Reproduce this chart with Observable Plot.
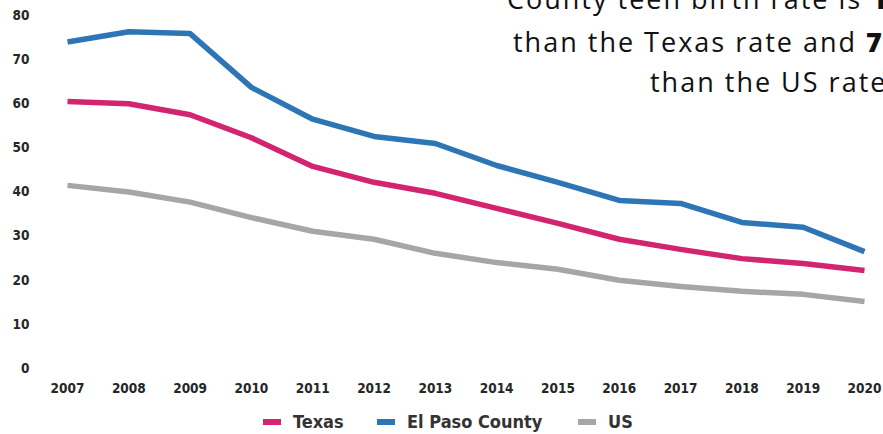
<!DOCTYPE html>
<html>
<head>
<meta charset="utf-8">
<script src="https://cdn.jsdelivr.net/npm/d3@7"></script>
<script src="https://cdn.jsdelivr.net/npm/@observablehq/plot@0.6"></script>
<style>
  html, body { margin: 0; padding: 0; background: #fff; }
  #wrap { position: relative; width: 883px; height: 434px; overflow: hidden; }
  #note { position: absolute; top: 0; left: 0; width: 883px; height: 110px; pointer-events: none;
          font-family: "Open Sans", Lato, sans-serif; font-size: 27px; color: #111; font-weight: 400;
          letter-spacing: 2px; }
  #note div { position: absolute; white-space: nowrap; line-height: 1; }
  #note b { font-weight: 800; }
  #legend { position: absolute; top: 400px; left: 0; width: 883px; height: 34px;
            font-family: "DejaVu Sans Condensed", "DejaVu Sans", sans-serif; font-weight: bold;
            font-size: 18px; color: #333; }
  .item { position: absolute; top: 11px; display: flex; align-items: center; }
  .sw { display: inline-block; width: 18px; height: 6px; margin-right: 12px; }
</style>
</head>
<body>
<div id="wrap">
  <div id="chart"></div>
  <div id="note"></div>
  <div id="legend"></div>
</div>
<script>
const years = [2007, 2008, 2009, 2010, 2011, 2012, 2013, 2014, 2015, 2016, 2017, 2018, 2019, 2020];
const texas = [60.5, 60.0, 57.5, 52.3, 45.8, 42.2, 39.7, 36.3, 32.9, 29.3, 27.0, 24.9, 23.8, 22.2];
const elPaso = [74.0, 76.3, 75.9, 63.7, 56.5, 52.6, 51.0, 46.0, 42.2, 38.1, 37.4, 33.1, 32.0, 26.5];
const us = [41.5, 40.0, 37.7, 34.2, 31.1, 29.3, 26.1, 24.0, 22.5, 20.0, 18.6, 17.5, 16.8, 15.2];
const seriesNames = ["Texas", "El Paso County", "US"];
const seriesColors = ["#d3246f", "#2e75b6", "#a6a6a6"];
const yTicks = [0, 10, 20, 30, 40, 50, 60, 70, 80];
const noteLines = [
  ["County teen birth rate is ", "1"],
  ["than the Texas rate and ", "7"],
  ["than the US rate", ""]
];

const seriesValues = [texas, elPaso, us];
const data = [];
seriesNames.forEach((name, i) => {
  years.forEach((yr, j) => data.push({series: name, year: yr, value: seriesValues[i][j]}));
});

const chart = Plot.plot({
  width: 883,
  height: 400,
  marginLeft: 67,
  marginRight: 19,
  marginTop: 15,
  marginBottom: 32,
  style: { fontFamily: "'DejaVu Sans Condensed', 'DejaVu Sans', sans-serif", fontSize: "13.5px", fontWeight: "bold", color: "#262626", background: "#fff" },
  x: { domain: [2007, 2020], label: null },
  y: { domain: [0, 80], label: null },
  color: { domain: seriesNames, range: seriesColors },
  marks: [
    Plot.axisX({ ticks: years, tickFormat: d3.format("d"), tickSize: 0, tickPadding: 15, label: null }),
    Plot.axisY({ ticks: yTicks, tickSize: 0, tickPadding: 38, label: null }),
    Plot.line(data, { x: "year", y: "value", z: "series", stroke: "series", strokeWidth: 5.5, strokeLinejoin: "round", strokeLinecap: "butt" })
  ]
});
document.getElementById("chart").appendChild(chart);

// annotation
const note = document.getElementById("note");
const noteLeft = [507, 513, 650];
const noteTop = [-15, 28, 68];
noteLines.forEach((ln, i) => {
  const d = document.createElement("div");
  d.style.left = noteLeft[i] + "px";
  d.style.top = noteTop[i] + "px";
  d.textContent = ln[0];
  if (ln[1]) { const b = document.createElement("b"); b.textContent = ln[1]; d.appendChild(b); }
  note.appendChild(d);
});

// legend
const legend = document.getElementById("legend");
const legendLeft = [263, 377, 578];
seriesNames.forEach((name, i) => {
  const it = document.createElement("div");
  it.className = "item";
  it.style.left = legendLeft[i] + "px";
  const sw = document.createElement("span");
  sw.className = "sw";
  sw.style.background = seriesColors[i];
  it.appendChild(sw);
  it.appendChild(document.createTextNode(name));
  legend.appendChild(it);
});
</script>
</body>
</html>
